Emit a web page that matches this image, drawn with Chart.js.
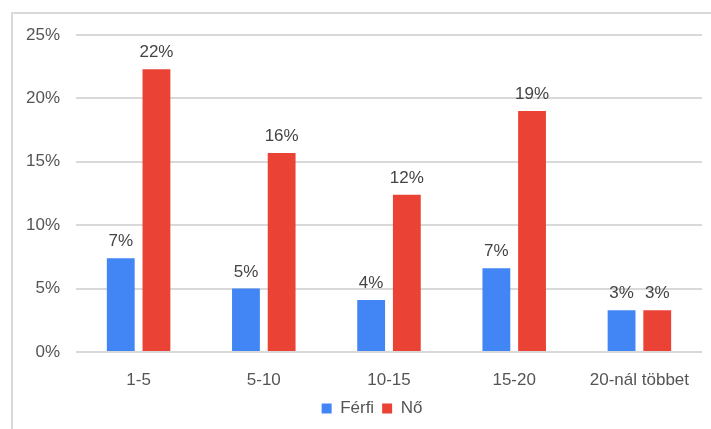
<!DOCTYPE html>
<html>
<head>
<meta charset="utf-8">
<script src="https://cdn.jsdelivr.net/npm/chart.js@4/dist/chart.umd.min.js"></script>
<style>
  html, body { margin: 0; padding: 0; background: #fff; overflow: hidden; }
  #wrap { position: relative; width: 711px; height: 429px; }
  #frame { position: absolute; left: 11px; top: 12px; width: 760px; height: 500px; border: 2px solid #d9d9d9; }
  canvas { position: absolute; left: 0; top: 0; }
</style>
</head>
<body>
<div id="wrap">
  <div id="frame"></div>
  <canvas id="chart" width="711" height="429"></canvas>
</div>
<script>
// categories and series (percent)
const categories = ['1-5', '5-10', '10-15', '15-20', '20-nál többet'];
const ferfi = [7.4, 5.0, 4.1, 6.6, 3.3];
const no = [22.3, 15.7, 12.4, 19.0, 3.3];
const seriesNames = ['Férfi', 'Nő'];

const FONT = '"Liberation Sans", Arial, sans-serif';

// simple value labels above bars
const barLabels = {
  id: 'barLabels',
  afterLayout(chart) {
    // the y axis box is narrow on purpose (legend centring); let its labels spill left
    chart.scales.y.left = 0;
  },
  afterDatasetsDraw(chart) {
    const ctx = chart.ctx;
    ctx.save();
    ctx.font = '17px ' + FONT;
    ctx.fillStyle = '#444';
    ctx.textAlign = 'center';
    ctx.textBaseline = 'alphabetic';
    chart.data.datasets.forEach((ds, i) => {
      chart.getDatasetMeta(i).data.forEach((bar, j) => {
        ctx.fillText(Math.round(ds.data[j]) + '%', bar.x, bar.y - 12);
      });
    });
    ctx.restore();
  }
};

new Chart(document.getElementById('chart'), {
  type: 'bar',
  data: {
    labels: categories,
    datasets: [
      { label: seriesNames[0], data: ferfi, backgroundColor: '#4285F4' },
      { label: seriesNames[1], data: no, backgroundColor: '#EA4335' }
    ]
  },
  options: {
    responsive: false,
    animation: false,
    devicePixelRatio: 1,
    layout: { padding: { left: 42, right: 9, top: 35, bottom: 2 } },
    datasets: { bar: { categoryPercentage: 0.57, barPercentage: 0.78 } },
    plugins: {
      legend: {
        position: 'bottom',
        labels: { boxWidth: 10, boxHeight: 10, padding: 8, color: '#555', font: { family: FONT, size: 17 } }
      },
      tooltip: { enabled: false }
    },
    scales: {
      x: {
        grid: { display: false },
        border: { display: false },
        ticks: { color: '#555', padding: 10, font: { family: FONT, size: 17 }, maxRotation: 0 },
        afterFit: s => { s.height = 40; }
      },
      y: {
        min: 0, max: 25,
        grid: { color: '#d9d9d9', lineWidth: 2, drawTicks: false },
        border: { display: false },
        ticks: { stepSize: 5, color: '#555', padding: 16, font: { family: FONT, size: 17 }, callback: v => v + '%' },
        afterFit: s => { s.width = 34; }
      }
    }
  },
  plugins: [barLabels]
});
</script>
</body>
</html>
